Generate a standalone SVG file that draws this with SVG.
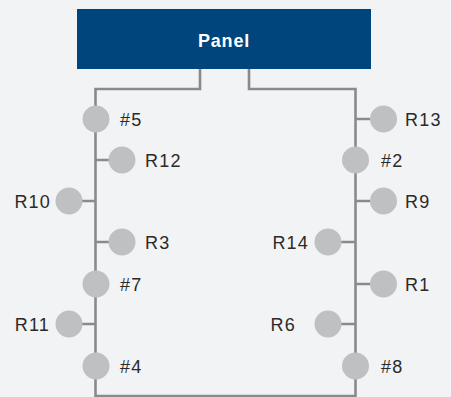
<svg xmlns="http://www.w3.org/2000/svg" width="451" height="397" viewBox="0 0 451 397">
<style>
.bg{fill:#f2f3f5}
.w{fill:none;stroke:#8a8a8a;stroke-width:2.6}
.n{fill:#bfc0c2}
.t{font-family:"Liberation Sans",Arial,sans-serif;font-size:18px;fill:#2a2a2a;letter-spacing:1.2px}
.e{text-anchor:end}
.p{font-family:"Liberation Sans",Arial,sans-serif;font-size:18px;font-weight:bold;fill:#fff;text-anchor:middle;letter-spacing:0.8px}
</style>
<rect class="bg" x="0" y="0" width="451" height="397"/>
<g id="connectors">
<path class="w" d="M200,69 V89 H95.5 V396 H355.5 V89 H249 V69"/>
<path class="w" d="M95.5,160 H110 M95.5,201 H82 M95.5,242 H110 M95.5,324 H82 M355.5,119 H370 M355.5,201 H370 M355.5,242 H341 M355.5,284 H370 M355.5,324 H341"/>
</g>
<g id="panel"><rect x="77" y="9" width="294" height="60" fill="#00457c"/><text class="p" x="224" y="47">Panel</text></g>
<g id="n5"><circle class="n" cx="96" cy="119" r="13.5"/><text class="t" x="120" y="126">#5</text></g>
<g id="R12"><circle class="n" cx="122" cy="160" r="13.5"/><text class="t" x="145" y="167">R12</text></g>
<g id="R10"><circle class="n" cx="69" cy="201" r="13.5"/><text class="t e" x="51" y="208">R10</text></g>
<g id="R3"><circle class="n" cx="122" cy="242" r="13.5"/><text class="t" x="145" y="249">R3</text></g>
<g id="n7"><circle class="n" cx="96" cy="284" r="13.5"/><text class="t" x="120" y="291">#7</text></g>
<g id="R11"><circle class="n" cx="69" cy="324" r="13.5"/><text class="t e" x="50" y="331">R11</text></g>
<g id="n4"><circle class="n" cx="96" cy="366" r="13.5"/><text class="t" x="120" y="373">#4</text></g>
<g id="R13"><circle class="n" cx="383.5" cy="119" r="13.5"/><text class="t" x="405" y="126">R13</text></g>
<g id="n2"><circle class="n" cx="355.5" cy="160" r="13.5"/><text class="t" x="381" y="167">#2</text></g>
<g id="R9"><circle class="n" cx="383.5" cy="201" r="13.5"/><text class="t" x="405" y="208">R9</text></g>
<g id="R14"><circle class="n" cx="328" cy="242" r="13.5"/><text class="t e" x="309" y="249">R14</text></g>
<g id="R1"><circle class="n" cx="383.5" cy="284" r="13.5"/><text class="t" x="405" y="291">R1</text></g>
<g id="R6"><circle class="n" cx="328" cy="324" r="13.5"/><text class="t e" x="296" y="331">R6</text></g>
<g id="n8"><circle class="n" cx="355.5" cy="366" r="13.5"/><text class="t" x="381" y="373">#8</text></g>
</svg>
